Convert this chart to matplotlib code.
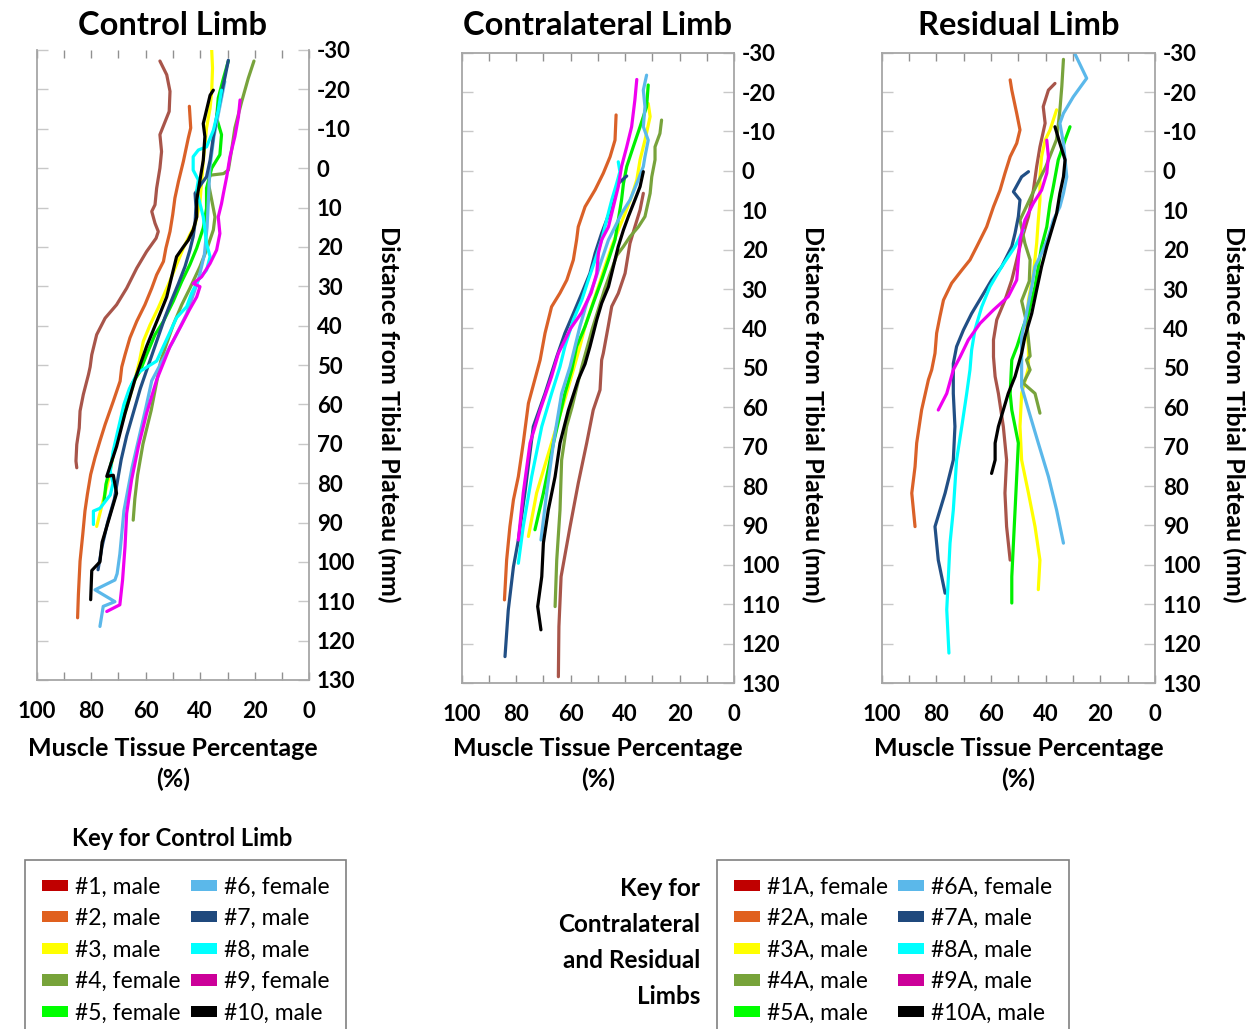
import matplotlib
matplotlib.use('Agg')
import matplotlib.pyplot as plt
from matplotlib.patches import Patch
from matplotlib.ticker import FixedLocator

plt.rcParams['font.family'] = ['Lato', 'DejaVu Sans']
plt.rcParams['font.weight'] = 'bold'
plt.rcParams['axes.unicode_minus'] = False

# ---------------- data: (muscle tissue %, distance from tibial plateau mm) ----------------
control_01 = [(54.8,-27.2),(52.3,-23.7),(51.1,-19.5),(51.4,-14.4),(52.9,-11.8),(54.8,-8.5),(54.2,-4.2),(54.8,0),(56.0,5.1),(56.6,9.3),(57.8,11.0),(56.6,14.0),(55.4,16.1),(56.2,17.8),(59.7,21.2),(63.3,25.4),(67.0,30.5),(70.7,34.7),(74.9,38.1),(78.0,42.3),(79.8,47.4),(80.4,50.5),(81.0,52.4),(82.9,57.5),(84.1,61.7),(84.4,66.0),(85.3,70.2),(85.6,74.4),(85.3,76.1)]
control_02 = [(44.0,-15.7),(43.5,-10.2),(44.4,-7.6),(46.2,-1.7),(48.0,3.4),(49.3,7.6),(50.1,11.8),(51.1,16.1),(52.6,20.3),(53.5,23.7),(56.0,27.1),(57.8,30.5),(60.3,34.7),(63.3,38.9),(65.8,43.1),(67.6,47.4),(68.8,50.5),(69.4,54.1),(71.9,59.2),(74.9,65.1),(76.8,69.3),(78.6,73.5),(80.2,77.8),(81.4,82.8),(82.3,87.1),(83.1,93.0),(84.1,99.8),(84.7,108.2),(85.0,114.2)]
control_03 = [(35.8,-30.0),(35.5,-25.4),(35.8,-19.5),(36.4,-15.2),(37.7,-10.2),(38.3,-5.9),(38.9,-1.7),(39.5,3.4),(40.1,8.5),(41.9,14.4),(43.8,16.9),(46.2,20.3),(48.7,24.5),(51.7,29.6),(55.4,35.5),(58.4,39.8),(60.9,44.0),(62.3,49.0),(64.0,53.8),(67.6,62.2),(71.3,70.7),(73.7,79.2),(76.2,86.0),(78.0,91.0)]
control_04 = [(20.3,-27.2),(22.4,-22.8),(24.8,-16.9),(27.3,-10.2),(28.5,-4.6),(29.7,0.5),(31.5,1.4),(36.4,1.8),(37.0,3.9),(35.8,8.1),(34.6,12.4),(35.2,15.7),(37.7,20.8),(40.1,25.0),(43.8,30.5),(46.8,34.7),(49.9,39.8),(52.9,45.7),(54.5,49.0),(58.0,61.5),(61.0,70.0),(63.0,78.0),(64.0,84.0),(64.6,89.4)]
control_05 = [(29.7,-27.2),(31.5,-22.8),(33.4,-17.8),(34.0,-12.7),(32.2,-8.5),(32.8,-3.4),(35.8,0.0),(37.7,5.1),(37.7,10.2),(38.9,15.2),(41.3,20.3),(43.8,24.5),(46.8,28.8),(49.9,33.8),(53.5,38.9),(56.6,42.3),(59.7,47.4),(62.1,51.6),(65.2,55.0),(67.6,61.7),(70.0,67.6),(72.5,74.4),(74.6,80.3),(75.3,84.6)]
control_06 = [(31.0,-22.0),(33.0,-15.0),(35.0,-8.0),(36.5,0.0),(37.0,8.0),(37.5,15.0),(38.5,22.0),(40.7,28.4),(45.0,37.0),(50.0,44.0),(54.0,49.0),(57.8,54.0),(60.0,61.0),(63.0,70.0),(65.0,76.0),(68.0,87.0),(69.5,98.0),(70.5,103.0),(71.3,104.6),(78.6,107.1),(71.3,110.1),(75.6,111.3),(76.8,116.4)]
control_07 = [(29.7,-27.4),(30.9,-23.2),(32.2,-19.0),(34.0,-13.0),(35.2,-8.0),(36.4,-2.0),(37.7,2.2),(39.5,3.9),(41.9,6.4),(41.6,9.8),(41.9,14.0),(42.6,17.4),(43.8,20.8),(45.6,25.0),(48.0,29.3),(50.5,33.5),(53.0,38.0),(56.0,44.0),(59.0,50.0),(62.0,56.0),(64.5,62.0),(67.0,68.0),(69.0,74.0),(70.5,80.0),(71.5,84.0),(74.0,90.0),(76.0,96.0),(77.5,102.0)]
control_08 = [(32.2,-19.8),(33.4,-14.7),(35.2,-9.6),(37.7,-5.4),(40.7,-4.6),(42.6,-2.9),(42.6,0.5),(40.7,3.0),(41.3,5.6),(40.1,9.0),(38.9,12.4),(38.3,15.7),(37.7,19.1),(36.4,22.5),(37.7,25.9),(40.7,28.4),(43.2,31.8),(45.0,35.2),(48.7,38.0),(52.0,43.0),(56.0,49.0),(63.0,52.0),(66.0,56.0),(68.0,60.0),(70.0,66.0),(72.0,72.0),(73.0,77.0),(72.0,80.0),(73.0,83.0),(76.8,86.4),(79.2,87.1),(79.2,90.5)]
control_09 = [(25.4,-17.3),(26.0,-13.0),(27.3,-8.0),(29.1,-2.9),(30.3,2.2),(31.5,6.4),(32.2,9.0),(33.4,12.4),(32.8,16.6),(34.0,20.8),(36.4,24.2),(39.5,27.6),(42.6,29.3),(40.1,30.1),(41.3,32.7),(44.0,36.0),(47.0,40.0),(51.1,45.3),(56.0,53.8),(59.7,62.3),(62.7,70.7),(65.2,79.2),(67.0,87.7),(67.6,96.1),(68.5,104.6),(69.5,110.9),(74.3,112.6)]
control_10 = [(35.2,-19.8),(36.4,-18.5),(38.3,-13.0),(38.9,-11.3),(38.3,-8.0),(38.9,-2.0),(40.1,3.0),(41.3,8.1),(41.3,12.4),(42.6,15.7),(44.4,18.3),(46.2,20.0),(48.7,22.5),(50.5,27.6),(52.3,32.7),(54.8,37.0),(59.7,45.3),(64.0,53.8),(67.6,62.3),(70.7,70.7),(74.3,78.3),(71.9,78.0),(70.7,82.6),(73.0,88.0),(76.0,95.0),(76.8,100.0),(79.8,102.2),(80.2,109.6)]

contra_01 = [(33.3,5.7),(34.5,9.9),(36.4,14.2),(38.2,18.4),(40.0,26.0),(42.5,31.1),(44.9,34.4),(46.2,39.5),(48.0,46.3),(48.6,48.0),(49.2,55.6),(51.7,60.7),(54.1,69.1),(57.2,79.3),(60.2,90.3),(63.5,103.0),(64.3,115.7),(64.5,128.4)]
contra_02 = [(43.3,-14.2),(43.7,-7.8),(45.5,-3.6),(48.0,0.6),(51.0,4.8),(54.7,9.1),(57.2,14.2),(57.8,17.5),(59.0,22.6),(61.4,27.7),(63.9,31.0),(67.0,34.5),(69.4,41.2),(71.2,48.0),(75.5,59.0),(77.4,69.1),(79.2,77.6),(81.0,83.5),(82.3,90.3),(83.5,98.8),(84.3,108.9)]
contra_03 = [(31.5,-17.1),(30.8,-13.8),(32.7,-7.8),(34.5,-2.8),(35.7,2.3),(37.6,6.5),(40.0,10.8),(42.5,15.0),(44.9,19.2),(47.4,24.3),(49.8,29.4),(52.3,34.5),(54.7,39.5),(56.6,44.6),(59.0,50.5),(61.5,56.5),(67.0,69.1),(72.5,81.8),(75.5,92.8)]
contra_04 = [(26.6,-12.9),(27.2,-9.5),(29.0,-6.1),(29.0,-2.8),(30.2,1.5),(30.8,5.7),(32.7,11.6),(35.1,14.2),(38.2,16.7),(40.6,19.2),(43.1,21.5),(47.5,30.0),(52.0,40.0),(56.0,50.0),(59.5,60.0),(61.5,64.9),(63.3,73.4),(63.9,86.1),(65.1,98.8),(65.7,110.6)]
contra_05 = [(31.5,-21.8),(32.1,-16.3),(34.5,-11.2),(37.0,-6.1),(39.4,-1.1),(40.6,3.2),(41.3,7.4),(42.5,12.5),(43.7,17.5),(46.1,22.6),(48.6,27.7),(51.7,33.6),(54.7,39.5),(57.8,44.6),(59.6,50.5),(62.1,56.5),(66.3,69.1),(70.0,81.8),(73.1,91.1)]
contra_06 = [(32.1,-24.3),(33.3,-20.5),(32.7,-16.3),(33.3,-11.2),(31.5,-7.8),(32.7,-3.6),(33.3,-1.1),(35.7,3.2),(38.2,7.4),(41.3,10.8),(43.7,14.2),(46.1,17.5),(48.6,22.6),(51.0,27.7),(54.1,33.6),(56.6,39.5),(58.4,44.6),(60.2,49.7),(63.3,56.5),(66.3,69.1),(68.8,81.8),(70.9,93.7)]
contra_07 = [(39.4,1.3),(42.5,3.2),(44.9,9.1),(48.6,15.8),(51.0,20.9),(52.9,26.0),(55.9,31.1),(59.0,36.2),(62.1,41.2),(65.1,47.2),(69.4,56.5),(73.7,64.9),(76.8,81.8),(79.2,93.7),(81.0,100.5),(82.9,111.5),(84.1,123.3)]
contra_08 = [(42.5,-2.3),(41.9,0.2),(43.1,3.2),(44.9,7.4),(46.8,12.5),(48.6,17.5),(51.0,22.6),(53.5,27.7),(55.9,32.8),(59.0,37.8),(62.1,44.6),(63.9,49.7),(67.0,56.5),(70.6,64.9),(74.3,77.6),(77.4,90.3),(79.2,99.6)]
contra_09 = [(35.7,-23.2),(36.4,-18.0),(37.6,-11.2),(39.4,-6.1),(41.3,-1.1),(42.5,4.0),(44.3,9.1),(46.1,14.2),(48.6,17.5),(49.8,20.9),(50.4,26.0),(52.5,31.0),(56.0,36.0),(60.0,40.0),(64.5,46.3),(67.0,52.2),(71.2,60.7),(74.9,69.1),(77.4,81.8),(79.2,93.7)]
contra_10 = [(33.3,0.2),(34.5,4.0),(36.4,7.4),(38.8,11.6),(40.6,15.0),(42.5,19.2),(44.3,24.3),(46.1,29.4),(48.6,33.6),(50.4,37.8),(52.9,44.6),(54.7,49.0),(57.2,53.0),(60.8,60.7),(63.9,69.1),(65.7,77.6),(68.2,86.1),(70.0,94.5),(70.6,103.0),(72.1,110.6),(70.9,116.5)]

resid_01 = [(36.6,-22.2),(39.0,-20.5),(40.9,-16.3),(40.2,-12.1),(42.1,-6.1),(43.3,-1.1),(44.5,4.9),(46.3,11.6),(48.8,17.5),(50.6,22.6),(52.4,27.7),(54.9,32.8),(57.9,37.8),(59.1,42.9),(59.1,47.2),(58.5,52.2),(57.3,56.5),(55.5,64.9),(54.3,73.4),(54.9,81.8),(54.3,90.3),(53.0,98.8)]
resid_02 = [(53.0,-23.1),(52.4,-20.5),(50.6,-14.6),(49.4,-10.4),(50.6,-7.0),(53.0,-3.6),(54.9,0.6),(56.7,4.9),(59.1,9.1),(61.6,14.2),(65.2,19.2),(67.7,22.6),(70.7,25.2),(74.4,28.5),(77.4,32.8),(78.7,37.0),(79.9,41.2),(80.5,46.3),(81.7,50.5),(82.9,53.0),(85.4,60.7),(87.2,69.1),(87.8,75.1),(89.0,81.8),(87.8,90.3)]
resid_03 = [(36.0,-15.5),(38.4,-10.4),(40.2,-7.8),(41.5,-3.6),(42.1,1.5),(42.1,7.4),(42.7,12.5),(43.3,18.4),(44.5,26.0),(46.3,32.8),(47.0,39.6),(46.3,44.6),(46.3,50.0),(48.8,56.5),(49.4,64.9),(48.8,73.4),(46.3,81.8),(43.9,90.3),(42.1,98.8),(42.7,106.3)]
resid_04 = [(33.5,-28.3),(34.1,-21.4),(34.8,-15.4),(36.0,-8.0),(40.0,-1.0),(45.0,6.0),(49.4,12.5),(47.6,18.4),(45.7,22.6),(46.0,28.0),(48.8,33.0),(46.9,38.7),(45.7,47.0),(47.0,48.0),(45.7,50.5),(48.2,53.9),(43.9,56.5),(42.1,61.5)]
resid_05 = [(31.1,-11.2),(32.9,-7.8),(35.4,-2.8),(37.2,4.0),(38.4,8.2),(39.6,14.2),(41.5,19.2),(42.7,24.3),(43.9,29.4),(46.3,36.2),(48.2,39.6),(50.5,44.6),(52.4,48.0),(53.0,56.5),(52.4,60.7),(50.0,69.1),(50.6,77.6),(51.2,86.1),(51.8,94.5),(52.4,103.0),(52.4,109.7)]
resid_06 = [(29.3,-29.7),(25.0,-23.5),(29.9,-18.8),(33.5,-14.6),(34.8,-12.1),(33.5,-7.0),(32.9,-2.8),(32.3,1.5),(33.5,5.7),(34.8,9.1),(37.2,12.5),(39.0,16.7),(41.5,20.9),(43.9,24.3),(45.1,29.4),(47.0,36.2),(48.8,42.1),(48.8,54.8),(46.3,60.7),(42.7,69.1),(39.0,77.6),(36.0,86.1),(33.5,94.5)]
resid_07 = [(46.3,0.2),(48.8,1.5),(51.8,5.3),(49.4,7.4),(50.0,11.6),(51.2,15.8),(52.4,19.2),(56.1,24.3),(59.8,27.7),(63.4,31.9),(67.1,36.2),(70.1,40.4),(72.6,44.6),(73.8,48.9),(73.8,56.5),(73.2,64.9),(73.8,73.4),(76.8,81.8),(80.5,90.3),(79.3,98.8),(76.8,107.2)]
resid_08 = [(48.2,15.0),(51.2,19.2),(56.1,24.3),(60.4,29.4),(63.4,34.5),(65.9,40.4),(67.1,45.5),(67.7,50.5),(68.9,56.5),(70.7,64.9),(72.6,73.4),(73.8,86.1),(75.0,94.5),(75.6,103.0),(76.2,111.4),(75.4,122.4)]
resid_09 = [(39.6,-7.8),(39.0,-3.6),(39.6,0.6),(41.5,4.9),(44.5,8.2),(47.6,12.5),(49.4,17.5),(50.0,22.6),(50.6,27.7),(53.7,31.9),(59.1,35.3),(64.0,38.7),(68.3,42.9),(71.3,47.2),(73.8,50.5),(76.2,56.5),(79.3,60.7)]
resid_10 = [(36.6,-11.2),(34.8,-7.0),(32.9,-2.8),(33.5,1.5),(34.8,5.7),(36.0,10.8),(37.8,15.0),(39.6,19.2),(41.5,24.3),(43.3,30.2),(45.1,36.2),(47.6,42.1),(48.8,46.3),(51.2,52.2),(53.7,56.5),(55.5,60.7),(57.3,64.9),(58.5,69.1),(58.5,73.4),(59.8,76.8)]

control_series = [control_01, control_02, control_03, control_04, control_05,
                  control_06, control_07, control_08, control_09, control_10]
contra_series = [contra_01, contra_02, contra_03, contra_04, contra_05,
                 contra_06, contra_07, contra_08, contra_09, contra_10]
resid_series = [resid_01, resid_02, resid_03, resid_04, resid_05,
                resid_06, resid_07, resid_08, resid_09, resid_10]

panel_titles = ['Control Limb', 'Contralateral Limb', 'Residual Limb']
x_major_ticks = [0, 20, 40, 60, 80, 100]
x_minor_ticks = [10, 30, 50, 70, 90]
y_ticks = [-30, -20, -10, 0, 10, 20, 30, 40, 50, 60, 70, 80, 90, 100, 110, 120, 130]
control_labels = ['#1, male', '#2, male', '#3, male', '#4, female', '#5, female',
                  '#6, female', '#7, male', '#8, male', '#9, female', '#10, male']
amputee_labels = ['#1A, female', '#2A, male', '#3A, male', '#4A, male', '#5A, male',
                  '#6A, female', '#7A, male', '#8A, male', '#9A, male', '#10A, male']
key2_title = ['Key for', 'Contralateral', 'and Residual', 'Limbs']

line_colors = ['#A8554A', '#DA6128', '#FFFF00', '#78A33C', '#00F000',
               '#5BB8EA', '#214F85', '#00FFFF', '#F000F0', '#000000']
key_colors = ['#C00000', '#E0601E', '#FFFF00', '#77A33A', '#00FF00',
              '#5BB8EA', '#1F497D', '#00FFFF', '#CC0099', '#000000']

# ---------------- layout ----------------
W, H = 1249, 1029
fig = plt.figure(figsize=(W / 100, H / 100), dpi=100)

rects = [(36.7, 50.0, 309.3, 680.0), (461.7, 52.7, 734.0, 683.0), (881.7, 52.7, 1155.0, 683.0)]
spine_col = '#A6A6A6'

for i, (series, title, (l, t, r, b)) in enumerate(zip([control_series, contra_series, resid_series], panel_titles, rects)):
    ax = fig.add_axes([l / W, 1 - b / H, (r - l) / W, (b - t) / H])
    for k, s in enumerate(series):
        xs = [p[0] for p in s]
        ys = [p[1] for p in s]
        ax.plot(xs, ys, color=line_colors[k], lw=2.3, solid_joinstyle='round', solid_capstyle='round')
    ax.set_xlim(100, 0)
    ax.set_ylim(130, -30)
    ax.xaxis.set_minor_locator(FixedLocator(x_minor_ticks))
    ax.set_xticks(x_major_ticks, labels=[str(v) for v in x_major_ticks], fontweight='bold', fontsize=16)
    ax.set_yticks(y_ticks, labels=[str(v) for v in y_ticks], fontweight='bold', fontsize=16)
    ax.tick_params(axis='x', which='both', direction='in', top=True, bottom=True,
                   length=6, width=1.0, color='#909090', pad=15)
    ax.tick_params(axis='y', which='both', direction='in', left=True, right=True,
                   labelleft=False, labelright=True, length=8, width=1.0,
                   color='#C8C8C8', pad=5.5)
    for sp in ax.spines.values():
        sp.set_color(spine_col)
        sp.set_linewidth(1.3)
    if i == 0:
        ax.spines['top'].set_visible(False)
    ax.set_xlabel('Muscle Tissue Percentage\n(%)', fontsize=18, fontweight='bold', linespacing=1.4)
    ax.xaxis.set_label_coords(0.5, -(737 - b) / (b - t))
    ax.xaxis.label.set_va('top')
    ax.set_ylabel('Distance from Tibial Plateau (mm)', fontsize=18, fontweight='bold', rotation=270,
                  va='center', ha='center')
    ax.yaxis.set_label_coords((r + 79 - l) / (r - l), (b - 414) / (b - t))
    fig.text((l + r) / 2 / W, 1 - 35 / H, title, ha='center', va='baseline', fontsize=23.5, fontweight='bold')

# ---------------- keys ----------------
fig.text(182 / W, 1 - 838 / H, 'Key for Control Limb', ha='center', va='center', fontsize=17, fontweight='bold')
for j, txt in enumerate(key2_title):
    fig.text(700 / W, 1 - (888 + 36.3 * j) / H, txt, ha='right', va='center', fontsize=17.5, fontweight='bold')

leg_kw = dict(ncol=2, loc='upper left', frameon=True, fancybox=False, edgecolor='#808080',
              framealpha=1, prop={'size': 16.5, 'weight': 'normal'}, handlelength=1.15,
              handleheight=0.38, handletextpad=0.3, columnspacing=0.45, labelspacing=0.46,
              borderpad=0.72, borderaxespad=0)
h1 = [Patch(facecolor=c, edgecolor='none') for c in key_colors]
lg1 = fig.legend(h1, control_labels, bbox_to_anchor=(25 / W, 1 - 860 / H), **leg_kw)
lg1.get_frame().set_linewidth(1.2)
h2 = [Patch(facecolor=c, edgecolor='none') for c in key_colors]
lg2 = fig.legend(h2, amputee_labels, bbox_to_anchor=(717 / W, 1 - 860 / H), **leg_kw)
lg2.get_frame().set_linewidth(1.2)

fig.savefig('out.png', dpi=100)
